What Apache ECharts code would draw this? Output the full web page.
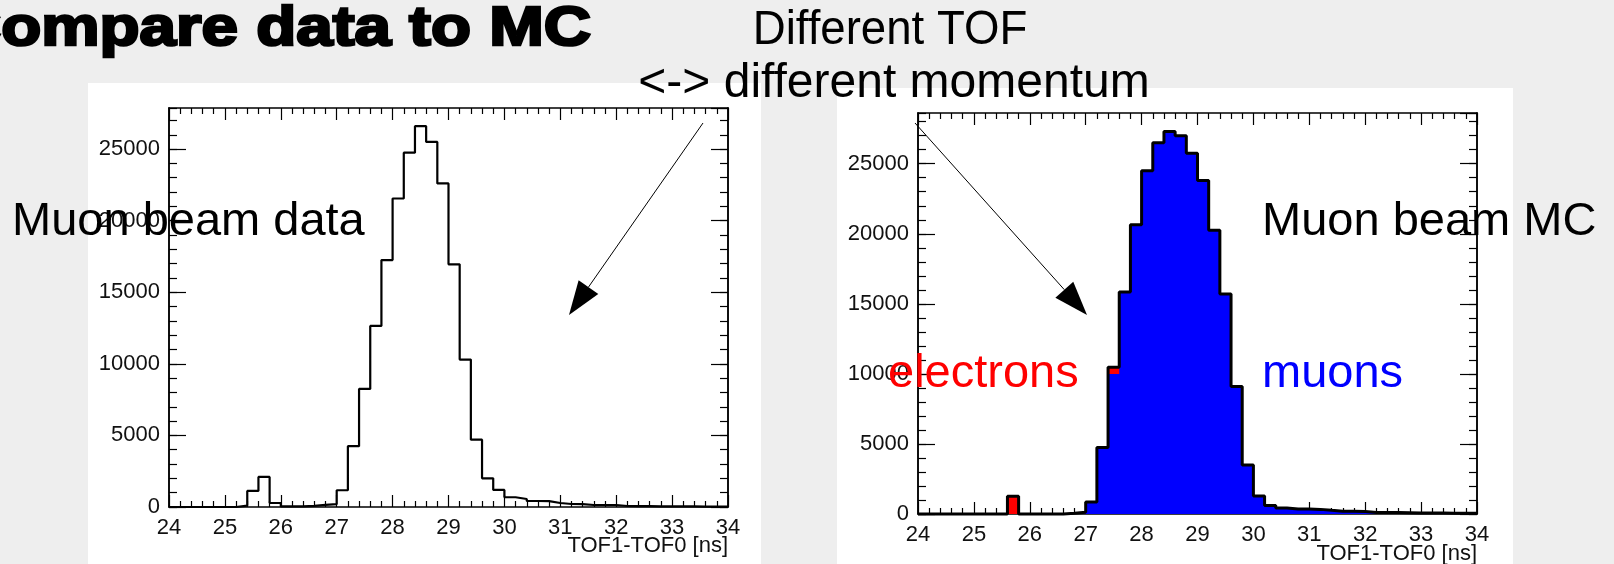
<!DOCTYPE html>
<html><head><meta charset="utf-8">
<script src="https://cdn.jsdelivr.net/npm/echarts@6/dist/echarts.min.js"></script>
<style>html,body{margin:0;padding:0;background:#eeeeee;}#c{width:1614px;height:564px;}</style>
</head><body><div id="c"></div>
<script>
// ---- data (bin width 0.2 ns, 24..34 ns) ----
const xMin = 24, xMax = 34, binWidth = 0.2;
const xTicks = [24,25,26,27,28,29,30,31,32,33,34];
const yTicks = [0,5000,10000,15000,20000,25000];
// Muon beam data (left)
const dataCounts = [0,0,0,0,0,0,100,1120,2100,280, 40,40,80,150,200,1170,4250,8250,12650,17250,
  21550,24750,26600,25500,22600,16950,10300,4700,2000,1190, 680,560,420,410,280,210,200,140,140,140,
  70,60,60,50,50,40,40,30,30,25];
// Muon beam MC (right): muons and electrons
const muonCounts = [0,0,0,0,0,0,0,0,0,0, 0,0,0,50,120,850,4750,10000,15850,20650,
  24500,26500,27300,27000,25750,23800,20250,15700,9100,3500, 1280,600,430,360,350,330,260,200,190,170,
  110,100,100,90,80,80,70,60,60,50];
const electronCounts = [0,0,0,0,0,0,0,0,1260,0, 0,0,0,0,0,0,0,480,0,0,
  0,0,0,0,0,0,0,0,0,0, 0,0,0,0,0,0,0,0,0,0, 0,0,0,0,0,0,0,0,0,0];
const yMaxData = 27870, yMaxMC = 28620;

function steps(counts){
  const pts = counts.map((v,i)=>[+(xMin + i*binWidth).toFixed(2), v]);
  pts.push([xMax, counts[counts.length-1]]);
  return pts;
}
const totalMC = muonCounts.map((v,i)=>v + electronCounts[i]);

const FONT = "'Liberation Sans', Arial, sans-serif";
const grids = [
  {left:169, top:108, width:559, height:399},
  {left:918, top:113, width:559, height:401}
];
function xAxes(g, namePad){
  const base = {type:'value', gridIndex:g, min:xMin, max:xMax, interval:1,
    splitLine:{show:false},
    axisLine:{show:true, onZero:false, lineStyle:{color:'#000', width:1.5}},
    axisTick:{show:true, inside:true, length:12, lineStyle:{color:'#000', width:1.2}},
    minorTick:{show:true, splitNumber:5, length:6, lineStyle:{color:'#000', width:1.2}}};
  return [
    Object.assign({}, base, {position:'bottom',
      axisLabel:{show:true, fontFamily:FONT, fontSize:22, color:'#111', margin:10},
      name:'TOF1-TOF0 [ns]', nameLocation:'end', nameGap:0, nameMoveOverlap:false,
      nameTextStyle:{fontFamily:FONT, fontSize:22, color:'#111', align:'right', verticalAlign:'top', padding:[namePad,0,0,0]}}),
    Object.assign({}, base, {position:'top', axisLabel:{show:false}})
  ];
}
function yAxes(g, ymax){
  const base = {type:'value', gridIndex:g, min:0, max:ymax, splitLine:{show:false},
    axisLine:{show:true, lineStyle:{color:'#000', width:1.5}}};
  const major = {interval:5000, axisTick:{show:true, inside:true, length:17, lineStyle:{color:'#000', width:1.2}}};
  const minor = {interval:1000, axisLabel:{show:false}, axisTick:{show:true, inside:true, length:8, lineStyle:{color:'#000', width:1.2}}};
  return [
    Object.assign({}, base, major, {position:'left',
      axisLabel:{show:true, fontFamily:FONT, fontSize:22, color:'#111', margin:9, showMaxLabel:false,
        formatter:v=> yTicks.indexOf(v) >= 0 ? String(v) : ''}}),
    Object.assign({}, base, minor, {position:'left'}),
    Object.assign({}, base, major, {position:'right', axisLabel:{show:false}}),
    Object.assign({}, base, minor, {position:'right'})
  ];
}

const chart = echarts.init(document.getElementById('c'), null, {renderer:'canvas'});
function txt(text, x, y, size, color, align, extra){
  return Object.assign({type:'text', x:x, y:y, z:100, style:{text:text, fill:color,
    font: size + 'px ' + FONT, textAlign:align||'left', textVerticalAlign:'middle'}}, extra||{});
}
function arrow(x1,y1,x2,y2){
  const dx = x2-x1, dy = y2-y1, L = Math.hypot(dx,dy), ux = dx/L, uy = dy/L;
  const hl = 34, hw = 12;
  const bx = x2 - ux*hl, by = y2 - uy*hl;
  return [
    {type:'line', z:90, shape:{x1:x1,y1:y1,x2:bx,y2:by}, style:{stroke:'#000', lineWidth:1}},
    {type:'polygon', z:90, shape:{points:[[x2,y2],[bx - uy*hw, by + ux*hw],[bx + uy*hw, by - ux*hw]]}, style:{fill:'#000'}}
  ];
}

const option = {
  animation:false,
  backgroundColor:'#eeeeee',
  grid: grids.map(g=>Object.assign({show:false, containLabel:false, outerBoundsMode:'none'}, g)),
  xAxis: [...xAxes(0, 28), ...xAxes(1, 29)],
  yAxis: [...yAxes(0, yMaxData), ...yAxes(1, yMaxMC)],
  series: [
    {type:'line', name:'data', xAxisIndex:0, yAxisIndex:0, step:'end', symbol:'none', clip:false,
      data:steps(dataCounts), lineStyle:{color:'#000', width:2.2}, z:5},
    {type:'line', name:'electrons', xAxisIndex:2, yAxisIndex:4, step:'end', symbol:'none', clip:false,
      data:steps(totalMC), lineStyle:{width:0}, areaStyle:{color:'#ff0000', opacity:1, origin:'start'}, z:3},
    {type:'line', name:'muons', xAxisIndex:2, yAxisIndex:4, step:'end', symbol:'none', clip:false,
      data:steps(muonCounts), lineStyle:{width:0}, areaStyle:{color:'#0000ff', opacity:1, origin:'start'}, z:4},
    {type:'line', name:'total', xAxisIndex:2, yAxisIndex:4, step:'end', symbol:'none', clip:false,
      data:steps(totalMC), lineStyle:{color:'#000', width:3}, z:5}
  ],
  graphic: [
    {type:'rect', z:-10, shape:{x:88, y:83, width:673, height:481}, style:{fill:'#ffffff'}},
    {type:'rect', z:-10, shape:{x:837, y:88, width:676, height:476}, style:{fill:'#ffffff'}},
    txt('Compare data to MC', -46, 30, 56, '#000', 'left',
      {scaleX:1.17, style:{text:'Compare data to MC', fill:'#000', font:'bold 56px ' + FONT, textVerticalAlign:'middle', stroke:'#000', lineWidth:2.6}}),
    txt('Different TOF', 890, 31, 48, '#000', 'center', {scaleX:0.95}),
    txt('<-> different momentum', 894, 84, 48, '#000', 'center'),
    txt('Muon beam data', 12, 222, 47, '#000', 'left'),
    txt('Muon beam MC', 1262, 222, 47, '#000', 'left'),
    txt('electrons', 888, 374, 47, '#ff0000', 'left'),
    txt('muons', 1262, 374, 47, '#0000ff', 'left'),
    ...arrow(703, 123, 569, 315),
    ...arrow(915, 123, 1087, 315)
  ]
};
chart.setOption(option);
</script></body></html>
